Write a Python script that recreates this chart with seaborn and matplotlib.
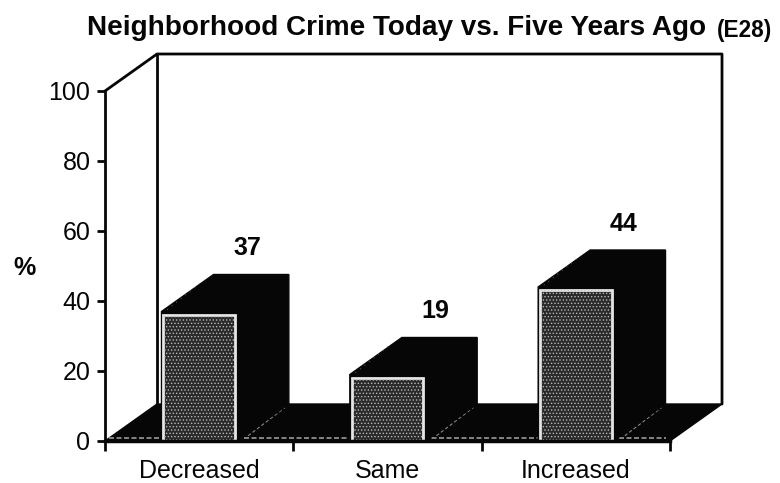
import matplotlib
matplotlib.use('Agg')
import matplotlib.pyplot as plt
import seaborn as sns
from matplotlib.transforms import ScaledTranslation

categories = ['Decreased', 'Same', 'Increased']
values = [37, 19, 44]
y_ticks = [0, 20, 40, 60, 80, 100]
x_bounds = [-0.5, 0.5, 1.5, 2.5]

sns.set_theme(style='white')
plt.rcParams['font.family'] = ['Liberation Sans', 'DejaVu Sans']
plt.rcParams['hatch.linewidth'] = 0.6

W, H = 780, 483
fig = plt.figure(figsize=(W / 100, H / 100), dpi=100)
ax = fig.add_axes([105 / W, 1 - 441 / H, 565 / W, 350 / H])
ink = '#060606'

# depth of the fake 3D box, in data units
ax.set_xlim(-0.5, 2.5)
ax.set_ylim(0, 100)
dx = 52 / 188.3
dy = 37 / 3.5
bw = 0.4

# Back wall and side wall
ax.plot([-0.5, -0.5 + dx, 2.5 + dx, 2.5 + dx], [100, 100 + dy, 100 + dy, dy],
        color=ink, lw=2, clip_on=False, zorder=1)
ax.plot([-0.5 + dx, -0.5 + dx], [100 + dy, dy], color=ink, lw=2, clip_on=False, zorder=1)

# Floor
ax.fill([-0.5, -0.5 + dx, 2.5 + dx, 2.5], [0, dy, dy, 0], color=ink, clip_on=False, zorder=1)
ax.plot([-0.48, 2.48], [1, 1], color='#9a9a9a', lw=1.2, ls=(0, (3, 1.5)), clip_on=False, zorder=2)

# Sides and tops of the boxes
for i, v in enumerate(values):
    l, r = i - bw / 2, i + bw / 2
    ax.fill([l, l + dx, r + dx, r + dx, r, l], [v, v + dy, v + dy, dy, 0, 0],
            facecolor=ink, edgecolor=ink, lw=1, clip_on=False, zorder=3)
    ax.plot([r + 0.06, r + dx - 0.02], [1.5, dy - 1], color='#8a8a8a', lw=0.8,
            ls=(0, (3, 2)), clip_on=False, zorder=2.5)
    ax.plot([l + 0.03, l + dx - 0.06], [v + 0.5, v + dy - 2], color='#666666', lw=0.7,
            ls=(0, (1, 5)), clip_on=False, zorder=4)

# Front faces, moved a little down so the black box shows round them
n0 = len(ax.patches)
sns.barplot(x=categories, y=values, color='#2a2a2a', saturation=1, width=bw - 0.02, ax=ax,
            edgecolor='#e6e6e6', linewidth=2)
sns.barplot(x=categories, y=values, color='#2a2a2a', saturation=1, width=bw - 0.03, ax=ax,
            linewidth=0)
shift = ax.transData + ScaledTranslation(0, -3 / 100, fig.dpi_scale_trans)
for p in ax.patches[n0:]:
    p.set_transform(shift)
    p.set_zorder(5)
for p in ax.patches[n0 + 3:]:
    p.set_edgecolor('#b8b8b8')
    p.set_facecolor('none')
    p.set_hatch('.....')
    p.set_linewidth(0)
    p.set_zorder(6)

# Value labels
for i, v in enumerate(values):
    ax.annotate(str(v), (i, v), xytext=(48, 63), textcoords='offset pixels', ha='center', va='center',
                fontsize=18, fontweight='bold', color=ink, annotation_clip=False)

ax.set_xlim(-0.5, 2.5)
ax.set_ylim(0, 100)
sns.despine(ax=ax)
ax.spines['left'].set_linewidth(2)
ax.spines['bottom'].set_linewidth(2.5)
ax.spines['left'].set_color(ink)
ax.spines['bottom'].set_color(ink)
ax.spines['left'].set_zorder(7)
ax.spines['bottom'].set_zorder(7)

ax.set_yticks(y_ticks)
ax.set_xticks(x_bounds, minor=True)
ax.set_xticks(range(len(categories)))
ax.set_xticklabels(categories)
ax.tick_params(axis='y', left=True, length=6, width=2, color=ink, labelsize=18, labelcolor=ink, pad=4.5)
ax.tick_params(axis='x', which='major', bottom=False, labelsize=18, labelcolor=ink, pad=7)
ax.tick_params(axis='x', which='minor', bottom=True, length=7, width=2, color=ink)
ax.set_xlabel('')
ax.set_ylabel('%', rotation=0, fontsize=18, fontweight='bold', color=ink, va='center')
ax.yaxis.set_label_coords(-80 / 565, (441 - 268) / 350)

fig.text(87 / W, 1 - 28 / H, 'Neighborhood Crime Today vs. Five Years Ago', fontsize=20.1,
         fontweight='bold', color=ink, va='center', ha='left')
fig.text(717 / W, 1 - 31 / H, '(E28)', fontsize=16.3, fontweight='bold', color=ink, va='center', ha='left')

fig.savefig('out.png', dpi=100)
